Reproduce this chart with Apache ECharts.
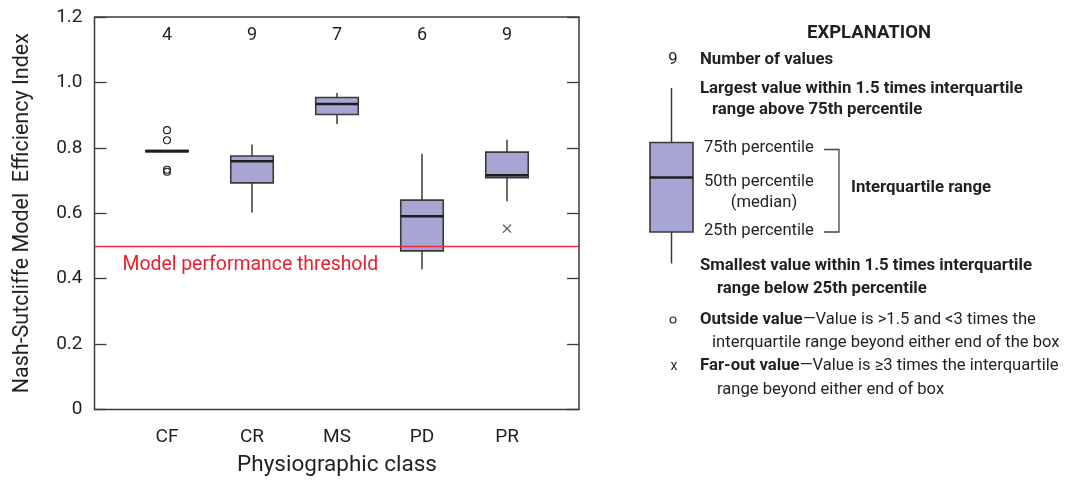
<!DOCTYPE html>
<html>
<head>
<meta charset="utf-8">
<script src="https://cdn.jsdelivr.net/npm/echarts@6/dist/echarts.min.js"></script>
<style>
html,body{margin:0;padding:0;background:#fff;}
#chart{width:1078px;height:484px;}
</style>
</head>
<body>
<div id="chart"></div>
<script>
// ---- data ----
const categories = ['CF', 'CR', 'MS', 'PD', 'PR'];
const counts = [4, 9, 7, 6, 9];
const whiskerLow  = [0.790, 0.602, 0.873, 0.429, 0.637];
const q1          = [0.788, 0.693, 0.902, 0.485, 0.709];
const median      = [0.790, 0.759, 0.934, 0.591, 0.716];
const q3          = [0.792, 0.775, 0.954, 0.640, 0.787];
const whiskerHigh = [0.790, 0.810, 0.968, 0.782, 0.825];
const outsideValues = [['CF', 0.854], ['CF', 0.823], ['CF', 0.733], ['CF', 0.727]];
const farOutValues = [['PR', 0.553]];
const threshold = 0.5;
const thresholdLabel = 'Model performance threshold';
const yTickLabels = ['0', '0.2', '0.4', '0.6', '0.8', '1.0', '1.2'];

// ---- chart ----
const FONT = 'Roboto';
const TXT = '#231f20';
const FILL = '#a6a5d3';
const EDGE = '#3a3a3a';

const boxData = categories.map((c, i) => [i, whiskerLow[i], q1[i], median[i], q3[i], whiskerHigh[i]]);

function renderBox(params, api) {
  const x = api.value(0);
  const pMin = api.coord([x, api.value(1)]);
  const pQ1 = api.coord([x, api.value(2)]);
  const pMed = api.coord([x, api.value(3)]);
  const pQ3 = api.coord([x, api.value(4)]);
  const pMax = api.coord([x, api.value(5)]);
  const bw = api.size([1, 0])[0] * 0.5;
  const cx = pMed[0];
  const ln = { stroke: EDGE, lineWidth: 1.5 };
  return {
    type: 'group',
    children: [
      { type: 'line', shape: { x1: cx, y1: pQ3[1], x2: cx, y2: pMax[1] }, style: ln },
      { type: 'line', shape: { x1: cx, y1: pQ1[1], x2: cx, y2: pMin[1] }, style: ln },
      { type: 'rect', shape: { x: cx - bw / 2, y: pQ3[1], width: bw, height: pQ1[1] - pQ3[1] },
        style: { fill: FILL, stroke: EDGE, lineWidth: 1.6 } },
      { type: 'line', shape: { x1: cx - bw / 2, y1: pMed[1], x2: cx + bw / 2, y2: pMed[1] },
        style: { stroke: '#1e1e1e', lineWidth: 2.6 } }
    ]
  };
}

function txt(x, y, text, opt) {
  return {
    type: 'text', x: x, y: y,
    style: Object.assign({ text: text, fill: TXT, font: '16px ' + FONT, textVerticalAlign: 'middle', textAlign: 'left' }, opt || {})
  };
}
const B = 'bold 16.8px ' + FONT;
const R = '16.6px ' + FONT;

const legendGraphics = [
  txt(869, 33, 'EXPLANATION', { font: 'bold 18.5px ' + FONT, textAlign: 'center' }),
  txt(673, 60, String(counts[1]), { font: R, textAlign: 'center' }),
  txt(700, 60, 'Number of values', { font: B }),
  txt(700, 89, 'Largest value within 1.5 times interquartile', { font: B }),
  txt(712, 110, 'range above 75th percentile', { font: B }),
  { type: 'line', shape: { x1: 671.5, y1: 88, x2: 671.5, y2: 142.5 }, style: { stroke: EDGE, lineWidth: 1.5 } },
  { type: 'line', shape: { x1: 671.5, y1: 232, x2: 671.5, y2: 263.5 }, style: { stroke: EDGE, lineWidth: 1.5 } },
  { type: 'rect', shape: { x: 650, y: 142.5, width: 43, height: 89.5 }, style: { fill: FILL, stroke: EDGE, lineWidth: 1.6 } },
  { type: 'line', shape: { x1: 650, y1: 177.5, x2: 693, y2: 177.5 }, style: { stroke: '#1e1e1e', lineWidth: 2.6 } },
  txt(704, 147.5, '75th percentile', { font: R }),
  txt(704, 181.5, '50th percentile', { font: R }),
  txt(764, 203, '(median)', { font: R, textAlign: 'center' }),
  txt(704, 230.5, '25th percentile', { font: R }),
  { type: 'polyline', shape: { points: [[824, 149.5], [839, 149.5], [839, 232], [824, 232]] },
    style: { stroke: '#444', lineWidth: 1.3, fill: null } },
  txt(851, 188, 'Interquartile range', { font: B }),
  txt(700, 266, 'Smallest value within 1.5 times interquartile', { font: B }),
  txt(717, 288.5, 'range below 25th percentile', { font: B }),
  { type: 'circle', shape: { cx: 673, cy: 320, r: 3 }, style: { fill: null, stroke: TXT, lineWidth: 1.1 } },
  { type: 'text', x: 700, y: 319.5, style: {
      text: '{b|Outside value}{r|\u2014Value is >1.5 and <3 times the}',
      textVerticalAlign: 'middle', fill: TXT,
      rich: { b: { font: B, fill: TXT }, r: { font: R, fill: TXT } } } },
  txt(712, 343, 'interquartile range beyond either end of the box', { font: R }),
  txt(674, 366, 'x', { font: '14px ' + FONT, textAlign: 'center' }),
  { type: 'text', x: 700, y: 366, style: {
      text: '{b|Far-out value}{r|\u2014Value is \u22653 times the interquartile}',
      textVerticalAlign: 'middle', fill: TXT,
      rich: { b: { font: B, fill: TXT }, r: { font: R, fill: TXT } } } },
  txt(717, 390, 'range beyond either end of box', { font: R })
];

const chart = echarts.init(document.getElementById('chart'), null, { renderer: 'canvas' });
const option = {
  animation: false,
  backgroundColor: '#fff',
  textStyle: { fontFamily: FONT, color: TXT },
  grid: [
    { left: 94.5, top: 17, width: 484.5, height: 392.5, show: true, borderColor: EDGE, borderWidth: 1.5, backgroundColor: 'transparent' },
    { left: 124.5, top: 17, width: 425, height: 392.5 }
  ],
  xAxis: [
    { type: 'value', gridIndex: 0, min: 0, max: 1, show: false },
    { type: 'category', gridIndex: 1, data: categories, position: 'bottom',
      axisLine: { show: false }, axisTick: { show: false },
      axisLabel: { margin: 18, fontSize: 19, color: TXT, fontFamily: FONT },
      name: 'Physiographic class', nameLocation: 'middle', nameGap: 44,
      nameTextStyle: { fontSize: 22.5, color: TXT, fontFamily: FONT } },
    { type: 'category', gridIndex: 1, data: counts.map(String), position: 'top',
      axisLine: { show: false }, axisTick: { show: false },
      axisLabel: { inside: true, margin: 9, fontSize: 18, color: TXT, fontFamily: FONT } }
  ],
  yAxis: [
    { type: 'value', gridIndex: 0, min: 0, max: 1.2, interval: 0.2, position: 'left',
      axisLine: { show: false }, splitLine: { show: false },
      axisTick: { show: true, inside: true, length: 12, lineStyle: { color: EDGE, width: 1.3 } },
      axisLabel: { margin: 12, fontSize: 19, color: TXT, fontFamily: FONT,
        formatter: (v) => yTickLabels[Math.round(v / 0.2)] },
      name: 'Nash-Sutcliffe Model  Efficiency Index', nameLocation: 'middle', nameGap: 61, nameRotate: 90,
      nameTextStyle: { fontSize: 21.5, color: TXT, fontFamily: FONT } },
    { type: 'value', gridIndex: 0, min: 0, max: 1.2, interval: 0.2, position: 'right',
      axisLine: { show: false }, splitLine: { show: false }, axisLabel: { show: false },
      axisTick: { show: true, inside: true, length: 12, lineStyle: { color: EDGE, width: 1.3 } } },
    { type: 'value', gridIndex: 1, min: 0, max: 1.2, interval: 0.2, show: false }
  ],
  series: [
    { type: 'line', xAxisIndex: 0, yAxisIndex: 0, data: [], silent: true,
      markLine: { silent: true, symbol: 'none', animation: false,
        lineStyle: { color: '#ee2b36', width: 1.4, type: 'solid' },
        label: { show: true, position: 'insideStartBottom', formatter: thresholdLabel,
          color: '#e8202c', fontSize: 19.4, fontFamily: FONT, distance: [28, 10] },
        data: [{ yAxis: threshold }] } },
    { type: 'custom', xAxisIndex: 1, yAxisIndex: 2, renderItem: renderBox, data: boxData,
      encode: { x: 0, y: [1, 2, 3, 4, 5] }, z: 3 },
    { type: 'scatter', xAxisIndex: 1, yAxisIndex: 2, data: outsideValues, symbol: 'circle', symbolSize: 7,
      itemStyle: { color: 'rgba(255,255,255,0)', borderColor: TXT, borderWidth: 1.1, opacity: 1 }, z: 4 },
    { type: 'scatter', xAxisIndex: 1, yAxisIndex: 2, data: farOutValues,
      symbol: 'path://M0,0L10,10M10,0L0,10', symbolSize: 8,
      itemStyle: { color: 'none', borderColor: TXT, borderWidth: 1.2 }, z: 4 }
  ],
  graphic: legendGraphics
};
chart.setOption(option);
</script>
</body>
</html>
